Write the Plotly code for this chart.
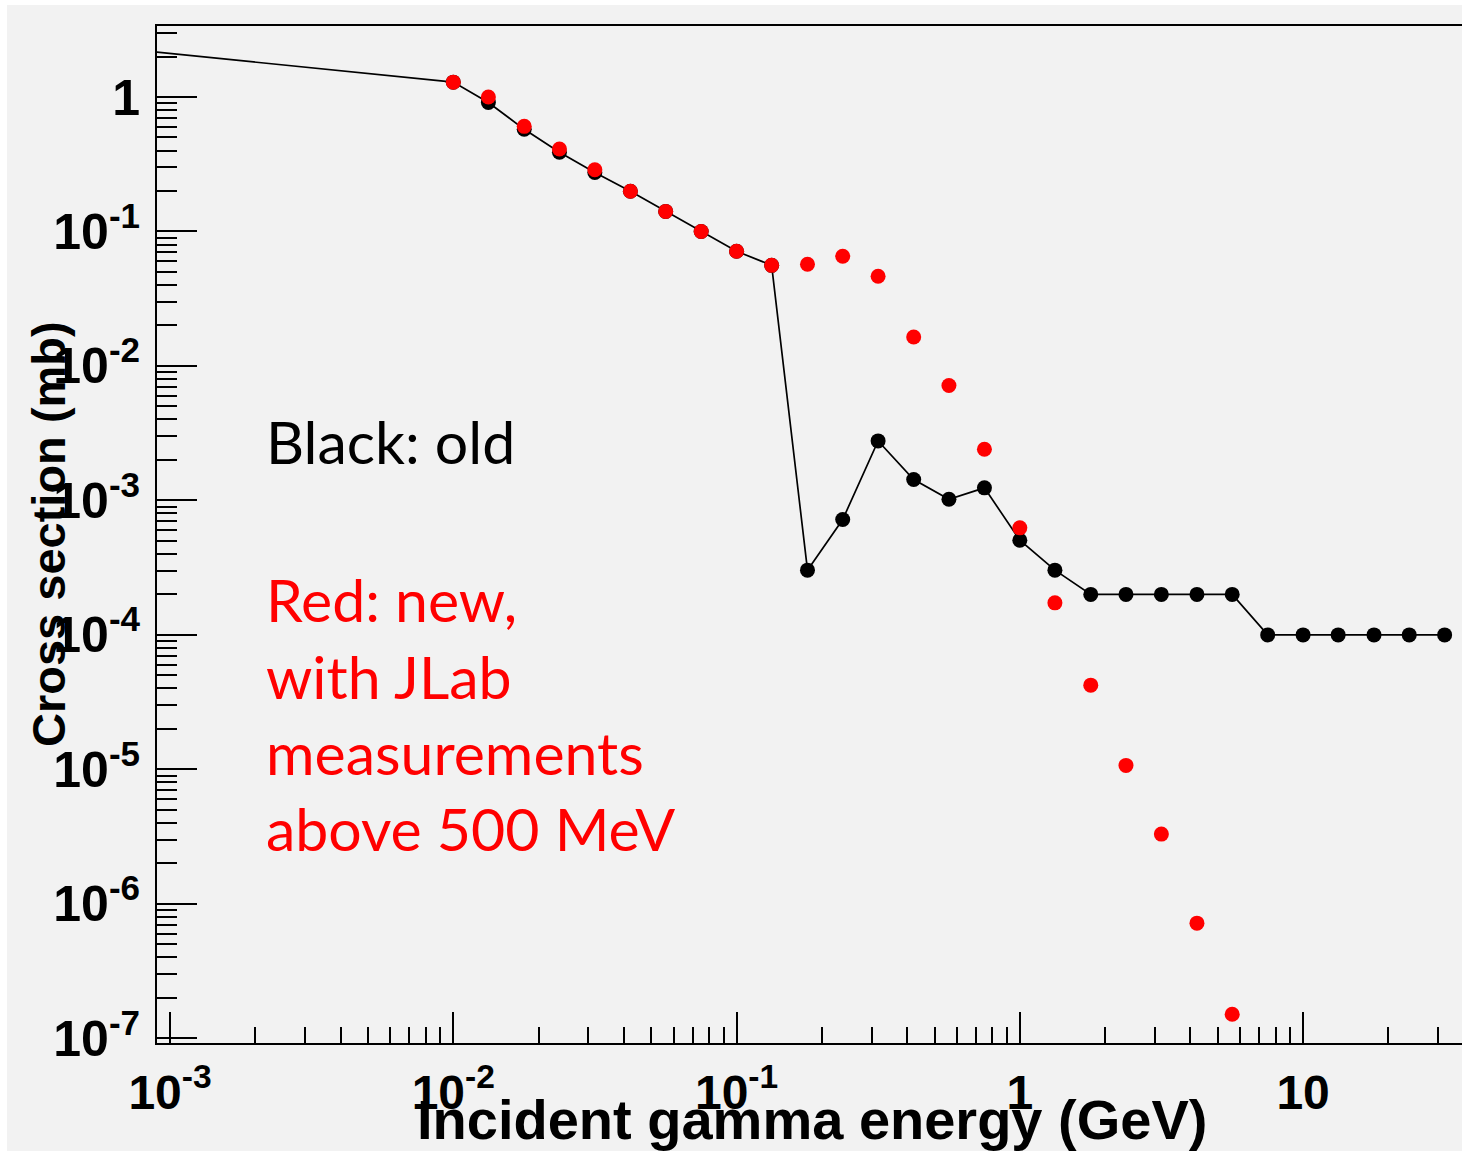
import plotly.graph_objects as go

# ---- data ----
energy_old = [0.0005, 0.01, 0.0133, 0.0178, 0.0237, 0.0316, 0.0422, 0.0562, 0.075, 0.1,
              0.133, 0.178, 0.237, 0.316, 0.422, 0.562, 0.75, 1.0, 1.33, 1.78,
              2.37, 3.16, 4.22, 5.62, 7.5, 10.0, 13.3, 17.8, 23.7, 31.6]
xsec_old = [2.44, 1.29, 0.91, 0.575, 0.388, 0.275, 0.199, 0.141, 0.1, 0.0713,
            0.056, 3.03e-4, 7.21e-4, 2.77e-3, 1.43e-3, 1.02e-3, 1.24e-3, 5.06e-4, 3.03e-4, 2.0e-4,
            2.0e-4, 2.0e-4, 2.0e-4, 2.0e-4, 1.0e-4, 1.0e-4, 1.0e-4, 1.0e-4, 1.0e-4, 1.0e-4]

energy_new = [0.01, 0.0133, 0.0178, 0.0237, 0.0316, 0.0422, 0.0562, 0.075, 0.1,
              0.133, 0.178, 0.237, 0.316, 0.422, 0.562, 0.75, 1.0, 1.33, 1.78,
              2.37, 3.16, 4.22, 5.62]
xsec_new = [1.29, 1.0, 0.605, 0.41, 0.288, 0.199, 0.141, 0.1, 0.0713,
            0.056, 0.057, 0.0654, 0.0464, 0.0164, 7.15e-3, 2.40e-3, 6.25e-4, 1.73e-4, 4.23e-5,
            1.07e-5, 3.3e-6, 7.18e-7, 1.51e-7]

x_tick_vals = [0.001, 0.01, 0.1, 1, 10]
x_tick_text = ["10<sup>-3</sup>", "10<sup>-2</sup>", "10<sup>-1</sup>", "1", "10"]
y_tick_vals = [1e-7, 1e-6, 1e-5, 1e-4, 1e-3, 1e-2, 1e-1, 1]
y_tick_text = ["10<sup>-7</sup>", "10<sup>-6</sup>", "10<sup>-5</sup>", "10<sup>-4</sup>",
               "10<sup>-3</sup>", "10<sup>-2</sup>", "10<sup>-1</sup>", "1"]

W, H = 1462, 1151
L, R, T, B = 157, 0, 26, 108
PW, PH = W - L - R, H - T - B


def px(xpix):
    return (xpix - L) / PW


def py(ypix):
    return (H - B - ypix) / PH


BG = "#f2f2f2"
AXFONT = "Liberation Sans, Arial, sans-serif"
TXTFONT = "Lato, Carlito, Calibri, sans-serif"

fig = go.Figure()
fig.add_trace(go.Scatter(
    x=energy_old, y=xsec_old, mode="lines+markers",
    line=dict(color="black", width=1.7),
    marker=dict(color="black", size=15, line=dict(width=0)),
    cliponaxis=True, hoverinfo="skip"))
fig.add_trace(go.Scatter(
    x=energy_new, y=xsec_new, mode="markers",
    marker=dict(color="#ff0000", size=15, line=dict(width=0)),
    cliponaxis=True, hoverinfo="skip"))

fig.update_xaxes(
    type="log", range=[-3.046, 1.561],
    showline=True, linecolor="black", linewidth=2, mirror=True,
    showgrid=False, zeroline=False,
    ticks="inside", ticklen=31, tickwidth=1.5, tickcolor="black",
    tickmode="array", tickvals=x_tick_vals, ticktext=x_tick_text,
    tickfont=dict(family=AXFONT, size=48, color="black", weight="bold"),
    ticklabelstandoff=6,
    minor=dict(ticks="inside", ticklen=16, tickwidth=1.5, tickcolor="black",
               dtick="D1", showgrid=False),
)
fig.update_yaxes(
    type="log", range=[-7.035, 0.528],
    showline=True, linecolor="black", linewidth=2, mirror=False,
    showgrid=False, zeroline=False,
    ticks="inside", ticklen=40, tickwidth=1.5, tickcolor="black",
    tickmode="array", tickvals=y_tick_vals, ticktext=y_tick_text,
    tickfont=dict(family=AXFONT, size=50, color="black", weight="bold"),
    ticklabelstandoff=5,
    minor=dict(ticks="inside", ticklen=20, tickwidth=1.5, tickcolor="black",
               dtick="D1", showgrid=False),
)

annotations = [
    dict(text="Black: old", x=px(264), y=py(441), color="black"),
    dict(text="Red: new,", x=px(264), y=py(599), color="#ff0000"),
    dict(text="with JLab", x=px(264), y=py(676), color="#ff0000"),
    dict(text="measurements", x=px(264), y=py(752), color="#ff0000"),
    dict(text="above 500 MeV", x=px(264), y=py(828), color="#ff0000"),
]
for a in annotations:
    fig.add_annotation(text=a["text"], x=a["x"], y=a["y"], xref="paper", yref="paper",
                       xanchor="left", yanchor="middle", showarrow=False,
                       font=dict(family=TXTFONT, size=59, color=a["color"]))

fig.add_annotation(text="Cross section (mb)", x=px(48), y=py(534), xref="paper", yref="paper",
                   xanchor="center", yanchor="middle", showarrow=False, textangle=-90,
                   font=dict(family=AXFONT, size=47, color="black", weight="bold"))
fig.add_annotation(text="Incident gamma energy (GeV)", x=px(812), y=py(1119),
                   xref="paper", yref="paper", xanchor="center", yanchor="middle",
                   showarrow=False,
                   font=dict(family=AXFONT, size=56, color="black", weight="bold"))

fig.add_shape(type="rect", xref="paper", yref="paper",
              x0=px(7), x1=px(W), y0=py(H), y1=py(5),
              fillcolor=BG, line=dict(width=0), layer="below")

fig.update_layout(
    width=W, height=H, autosize=False,
    margin=dict(l=L, r=R, t=T, b=B, pad=0),
    paper_bgcolor="white", plot_bgcolor=BG,
    showlegend=False, hovermode=False,
)

fig.write_html("out.html", config={"displayModeBar": False})
